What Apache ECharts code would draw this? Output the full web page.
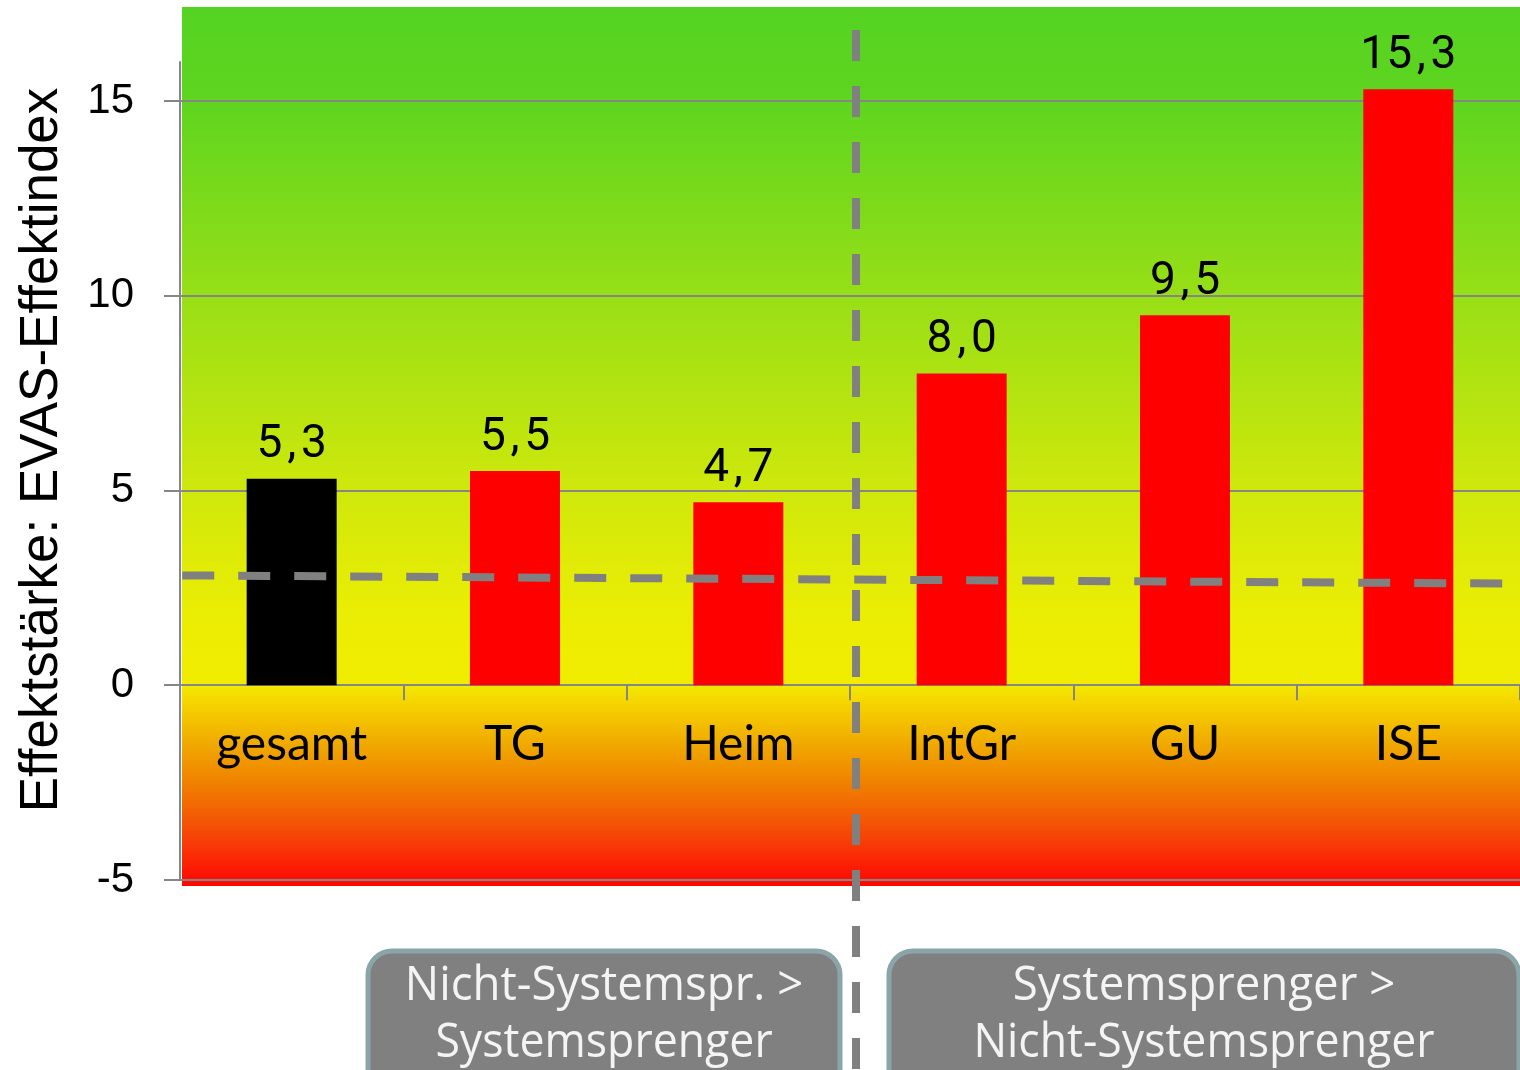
<!DOCTYPE html>
<html>
<head>
<meta charset="utf-8">
<script src="https://cdn.jsdelivr.net/npm/echarts@6/dist/echarts.min.js"></script>
<style>
  html, body { margin: 0; padding: 0; background: #ffffff; }
  #chart { width: 1520px; height: 1070px; }
</style>
</head>
<body>
<div id="chart"></div>
<script>
// Effect index per group
const categories = ['gesamt', 'TG', 'Heim', 'IntGr', 'GU', 'ISE'];
const effectValues = [5.3, 5.5, 4.7, 8.0, 9.5, 15.3];
const barColors = ['#000000', '#ff0000', '#ff0000', '#ff0000', '#ff0000', '#ff0000'];
const yTickValues = [-5, 0, 5, 10, 15];

// Reference line (position along the category span, value)
const referenceLine = [[0.01, 2.82], [5.93, 2.61]];
// Divider between the two group blocks (position along category span, value range)
const dividerLine = [[3.027, 16.82], [3.027, -10]];

const boxTexts = [
  ['Nicht-Systemspr. >', 'Systemsprenger'],
  ['Systemsprenger >', 'Nicht-Systemsprenger']
];

const chart = echarts.init(document.getElementById('chart'), null, { renderer: 'canvas' });

const gray = '#868686';

function boxGraphic(x, w, lines) {
  const cx = x + w / 2;
  return [
    {
      type: 'rect',
      shape: { x: x, y: 951, width: w, height: 150, r: 24 },
      style: { fill: '#808080', stroke: '#8aa5a8', lineWidth: 5 },
      z: 5
    },
    {
      type: 'text', x: cx, y: 986, scaleX: 0.95, z: 6,
      style: { text: lines[0], x: 0, y: 0, align: 'center', verticalAlign: 'middle',
               font: '48px "Open Sans"', fill: '#f4f4f4' }
    },
    {
      type: 'text', x: cx, y: 1043, scaleX: 0.93, z: 6,
      style: { text: lines[1], x: 0, y: 0, align: 'center', verticalAlign: 'middle',
               font: '48px "Open Sans"', fill: '#f4f4f4' }
    }
  ];
}

// Decimal comma with a little air around it
function formatValue(v) {
  return v.toFixed(1).replace('.', '\u200A,\u200A');
}

const option = {
  animation: false,
  backgroundColor: '#ffffff',
  grid: { left: 180, right: 0, top: 62, bottom: 190, containLabel: false },
  graphic: [
    {
      type: 'rect',
      shape: { x: 182, y: 7, width: 1338, height: 879 },
      style: {
        fill: new echarts.graphic.LinearGradient(0, 0, 0, 1, [
          { offset: 0.00, color: '#54d322' },
          { offset: 0.11, color: '#5fd51f' },
          { offset: 0.33, color: '#98df16' },
          { offset: 0.55, color: '#cfe80b' },
          { offset: 0.68, color: '#e9ed04' },
          { offset: 0.770, color: '#f1ec00' },
          { offset: 0.790, color: '#f6d600' },
          { offset: 0.84, color: '#f0a800' },
          { offset: 0.89, color: '#f07a00' },
          { offset: 0.945, color: '#f64308' },
          { offset: 1.00, color: '#ff0500' }
        ])
      },
      z: -100
    },
    {
      type: 'text', x: 42, y: 450, rotation: Math.PI / 2, z: 5,
      style: { text: 'Effektstärke: EVAS-Effektindex', x: 0, y: 0, align: 'center',
               verticalAlign: 'middle', font: '53px "Liberation Sans"', fill: '#000000' }
    },
    ...boxGraphic(368, 472, boxTexts[0]),
    ...boxGraphic(889, 630, boxTexts[1])
  ],
  xAxis: [
    {
      type: 'category',
      data: categories,
      axisLine: { onZero: true, lineStyle: { color: gray, width: 2 } },
      axisTick: { show: true, length: 15, lineStyle: { color: gray, width: 2 } },
      axisLabel: { interval: 0, margin: -159, color: '#000000', fontSize: 48,
                   fontFamily: 'Lato' },
      splitLine: { show: false }
    },
    {
      type: 'value', min: 0, max: 6, show: false
    }
  ],
  yAxis: {
    type: 'value',
    min: -5, max: 16, interval: 5,
    axisLine: { show: true, lineStyle: { color: gray, width: 2 } },
    axisTick: { show: true, length: 16, customValues: yTickValues,
                lineStyle: { color: gray, width: 2 } },
    axisLabel: { customValues: yTickValues, margin: 46, color: '#000000', fontSize: 42,
                 fontFamily: '"Liberation Sans"' },
    splitLine: { show: true, lineStyle: { color: gray, width: 2 } }
  },
  series: [
    {
      type: 'bar',
      data: effectValues.map((v, i) => ({ value: v, itemStyle: { color: barColors[i] } })),
      barWidth: 90,
      z: 3,
      label: {
        show: true, position: 'top', distance: 10,
        color: '#000000', fontSize: 46, fontFamily: 'Roboto',
        formatter: p => formatValue(p.value)
      }
    },
    {
      type: 'line',
      xAxisIndex: 1,
      data: referenceLine,
      symbol: 'none',
      z: 4,
      lineStyle: { color: '#808080', width: 8, type: [32, 24], cap: 'butt' },
      silent: true
    },
    {
      type: 'line',
      xAxisIndex: 1,
      data: dividerLine,
      symbol: 'none',
      clip: false,
      z: 4,
      lineStyle: { color: '#808080', width: 8, type: [31, 25], cap: 'butt' },
      silent: true
    }
  ]
};

chart.setOption(option);
</script>
</body>
</html>
